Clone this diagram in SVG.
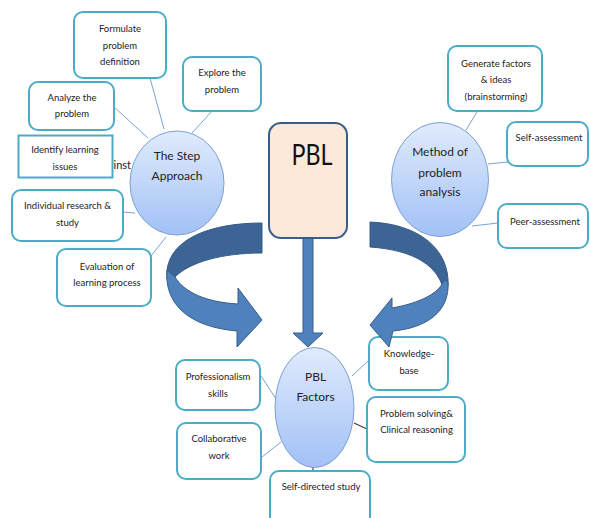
<svg xmlns="http://www.w3.org/2000/svg" width="590" height="518" viewBox="0 0 590 518">
<defs>
<linearGradient id="cg" x1="0" y1="0" x2="0" y2="1">
<stop offset="0" stop-color="#e0ebfc"/>
<stop offset="1" stop-color="#a2c1f6"/>
</linearGradient>
<style>
.box{fill:#fff;stroke:#4bacc6;stroke-width:2}
.t{font-family:Lato,"Liberation Sans",sans-serif;font-size:9.5px;fill:#222;text-anchor:middle}
.ct{font-family:Lato,"Liberation Sans",sans-serif;font-size:12px;fill:#222;text-anchor:middle}
.circ{fill:url(#cg);stroke:#7f9fd2;stroke-width:1}
.ln{stroke:#7ba3d6;stroke-width:1;fill:none}
.lnd{stroke:#404040;stroke-width:1.2;fill:none}
.dk{fill:#3c6494;stroke:#385d8a;stroke-width:1}
.lt{fill:#4f81bd;stroke:#385d8a;stroke-width:1}
</style>
</defs>
<rect width="590" height="518" fill="#fff"/>

<g id="connectors">
<line class="ln" x1="150" y1="78" x2="164" y2="129"/>
<line class="ln" x1="213" y1="110" x2="192" y2="133"/>
<line class="ln" x1="114" y1="107" x2="148" y2="138"/>
<line class="ln" x1="123" y1="212" x2="135" y2="213"/>
<line class="ln" x1="151" y1="256" x2="166" y2="237"/>
<line class="ln" x1="480" y1="107" x2="466" y2="130"/>
<line class="ln" x1="508" y1="162" x2="488" y2="164"/>
<line class="ln" x1="498" y1="223" x2="472" y2="226"/>
<line class="ln" x1="261" y1="376" x2="276" y2="399"/>
<line class="ln" x1="262" y1="457" x2="281" y2="442"/>
<line class="ln" x1="369" y1="360" x2="352" y2="376"/>
<line class="lnd" x1="354" y1="423" x2="367" y2="429"/>
<line class="lnd" x1="313" y1="454" x2="313" y2="471"/>
</g>

<g id="formulate"><rect class="box" x="74" y="12" width="92" height="66" rx="9"/>
<text class="t" x="120" y="32">Formulate</text><text class="t" x="120" y="49">problem</text><text class="t" x="120" y="65">definition</text></g>
<g id="explore"><rect class="box" x="183" y="57" width="78" height="54" rx="9"/>
<text class="t" x="222" y="76">Explore the</text><text class="t" x="222" y="93">problem</text></g>
<g id="analyze"><rect class="box" x="29" y="82" width="85" height="48" rx="9"/>
<text class="t" x="72" y="101">Analyze the</text><text class="t" x="72" y="117">problem</text></g>
<g id="identify"><rect class="box" x="18.5" y="135.5" width="94" height="42"/>
<text class="t" x="65" y="153">Identify learning</text><text class="t" x="65" y="170">issues</text></g>
<text x="113.5" y="169" font-family="Lato,'Liberation Sans',sans-serif" font-size="11" fill="#222">inst</text>
<g id="individual"><rect class="box" x="12" y="190" width="111" height="51" rx="9"/>
<text class="t" x="67.5" y="209">Individual research &amp;</text><text class="t" x="67.5" y="226">study</text></g>
<g id="evaluation"><rect class="box" x="57" y="249" width="94" height="57" rx="9"/>
<text class="t" x="107" y="270">Evaluation of</text><text class="t" x="107" y="286">learning process</text></g>

<g id="generate"><rect class="box" x="448" y="46" width="94" height="65" rx="9"/>
<text class="t" x="496" y="66.5">Generate factors</text><text class="t" x="496" y="83">&amp; ideas</text><text class="t" x="496" y="100">(brainstorming)</text></g>
<g id="selfassess"><rect class="box" x="507" y="122" width="81" height="44" rx="9"/>
<text class="t" x="549" y="141">Self-assessment</text></g>
<g id="peerassess"><rect class="box" x="498" y="204" width="90" height="44" rx="9"/>
<text class="t" x="545" y="225">Peer-assessment</text></g>

<g id="professionalism"><rect class="box" x="176" y="360" width="84" height="50" rx="9"/>
<text class="t" x="218" y="380">Professionalism</text><text class="t" x="218" y="397">skills</text></g>
<g id="collaborative"><rect class="box" x="177" y="423" width="84" height="56" rx="9"/>
<text class="t" x="219" y="442">Collaborative</text><text class="t" x="219" y="459">work</text></g>
<g id="knowledge"><rect class="box" x="369" y="337" width="79" height="53" rx="9"/>
<text class="t" x="409" y="357">Knowledge-</text><text class="t" x="409" y="374">base</text></g>
<g id="problemsolving"><rect class="box" x="367" y="397" width="98" height="65" rx="9"/>
<text class="t" x="416.5" y="417">Problem solving&amp;</text><text class="t" x="416.5" y="433">Clinical reasoning</text></g>
<g id="selfdirected"><rect class="box" x="270" y="471" width="100" height="60" rx="9"/>
<text class="t" x="321" y="490">Self-directed study</text></g>

<g id="arrows">
<path class="dk" d="M262,223 C212,223 171,238 167,270 L167,279 L175,277 C190,262 222,253 262,253 Z"/>
<path class="lt" d="M167,270 C164,305 190,327 237,331 L237,347 L262,320 L238,288 L238,304 C205,302 184,292 175,277 Z"/>
<path class="dk" d="M370,222 C420,224 450,250 448,286 L444,293 C440,266 414,250 370,247 Z"/>
<path class="lt" d="M448,282 C450,312 426,328 393,331 L389,347 L370,325 L392,298 L392,308 C420,303 440,293 444,280 Z"/>
<path class="lt" d="M303,238 L313,238 L313,333 L323,333 L308,347 L293,333 L303,333 Z"/>
</g>

<g id="pbl"><rect x="269" y="123" width="78" height="115" rx="12" fill="#fde9d9" stroke="#385d8a" stroke-width="2"/>
<text x="312" y="165" font-family="Lato,'Liberation Sans',sans-serif" font-size="28" fill="#111" text-anchor="middle" textLength="41" lengthAdjust="spacingAndGlyphs">PBL</text></g>

<g id="step"><ellipse class="circ" cx="177" cy="183" rx="47" ry="52"/>
<text class="ct" x="177" y="160">The Step</text><text class="ct" x="177" y="180">Approach</text></g>
<g id="method"><ellipse class="circ" cx="440" cy="179.5" rx="48.5" ry="57"/>
<text class="ct" x="440" y="156">Method of</text><text class="ct" x="440" y="177">problem</text><text class="ct" x="440" y="196">analysis</text></g>
<g id="factors"><ellipse class="circ" cx="314.5" cy="407.5" rx="39.5" ry="60"/>
<text class="ct" x="315.5" y="381">PBL</text><text class="ct" x="315.5" y="401">Factors</text></g>
</svg>
